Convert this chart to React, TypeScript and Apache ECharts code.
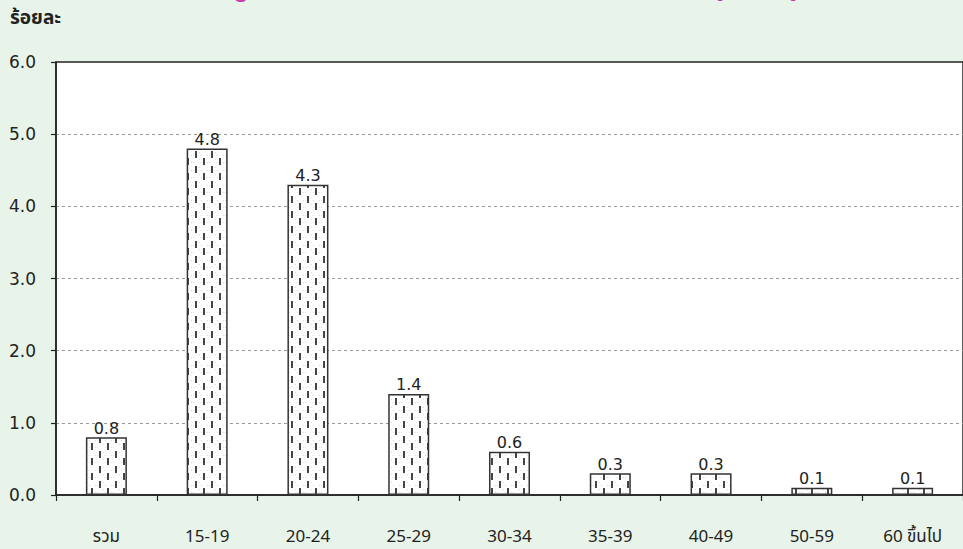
import React, { useEffect, useRef } from "react";
import * as echarts from "echarts";

const categories = ["รวม", "15-19", "20-24", "25-29", "30-34", "35-39", "40-49", "50-59", "60 ขึ้นไป"];
const values = [0.8, 4.8, 4.3, 1.4, 0.6, 0.3, 0.3, 0.1, 0.1];
const yTicks = [0, 1, 2, 3, 4, 5, 6];
const yAxisTitle = "ร้อยละ";
const chartTitle = "แผนภูมิ 2 อัตราการว่างงาน จำแนกตามกลุ่มอายุ (ปี)";

const THAI_FONT = "Tahoma, 'Noto Sans Thai', 'Loma', 'Garuda', 'Noto Sans', 'DejaVu Sans', sans-serif";
const NUM_FONT = "'DejaVu Sans', Tahoma, sans-serif";

function makePattern(): string {
  const c = document.createElement("canvas");
  c.width = 16;
  c.height = 15;
  const ctx = c.getContext("2d")!;
  ctx.fillStyle = "#ffffff";
  ctx.fillRect(0, 0, 16, 15);
  ctx.fillStyle = "#d8d8d8";
  const dots = [[7, 2], [15, 5], [7, 9], [15, 12], [1, 5], [9, 12], [1, 12], [9, 5]];
  dots.forEach(([x, y]) => ctx.fillRect(x, y, 1, 1));
  ctx.fillStyle = "#444444";
  ctx.fillRect(3, 1, 2, 7);
  ctx.fillRect(11, 8, 2, 7);
  return c.toDataURL();
}

export default function App() {
  const ref = useRef<HTMLDivElement>(null);
  useEffect(() => {
    if (!ref.current) return;
    const chart = echarts.init(ref.current, null, { renderer: "svg" });
    const pattern = makePattern();
    chart.setOption({
      animation: false,
      backgroundColor: "#e8f4e9",
      graphic: [
        {
          type: "text",
          x: 164,
          y: -28,
          scaleX: 1.15,
          style: {
            text: chartTitle,
            fill: "#c23fae",
            font: `bold 28px ${THAI_FONT}`,
          },
        },
        {
          type: "text",
          left: 10,
          top: 9,
          style: {
            text: yAxisTitle,
            fill: "#222",
            font: `bold 19px ${THAI_FONT}`,
          },
        },
      ],
      grid: {
        left: 56,
        top: 62,
        right: -2,
        bottom: 54,
        show: true,
        backgroundColor: "#ffffff",
        borderColor: "#222",
        borderWidth: 1.5,
      },
      xAxis: {
        type: "category",
        data: categories,
        axisLine: { lineStyle: { color: "#222", width: 1.5 } },
        axisTick: { show: true, length: 6, lineStyle: { color: "#222", width: 1.2 } },
        axisLabel: {
          color: "#222",
          fontSize: 17,
          fontFamily: THAI_FONT,
          margin: 33,
          interval: 0,
        },
      },
      yAxis: {
        type: "value",
        min: yTicks[0],
        max: yTicks[yTicks.length - 1],
        interval: 1,
        axisLine: { show: true, lineStyle: { color: "#222", width: 1.5 } },
        axisTick: { show: true, length: 5, lineStyle: { color: "#222", width: 1.2 } },
        axisLabel: {
          color: "#222",
          fontSize: 17,
          fontFamily: NUM_FONT,
          margin: 20,
          formatter: (v: number) => v.toFixed(1),
        },
        splitLine: {
          show: true,
          showMinLine: false,
          showMaxLine: false,
          lineStyle: { color: "#9a9a9a", type: [3, 3], width: 1 },
        },
      },
      series: [
        {
          type: "bar",
          data: values,
          barWidth: 41,
          itemStyle: {
            color: {
              image: pattern,
              repeat: "repeat",
              imageWidth: 16,
              imageHeight: 15,
            },
            borderColor: "#333",
            borderWidth: 1.5,
          },
          label: {
            show: true,
            position: "top",
            distance: 1,
            color: "#222",
            fontSize: 16,
            fontFamily: NUM_FONT,
            formatter: (p: any) => Number(p.value).toFixed(1),
          },
        },
      ],
    });
    return () => chart.dispose();
  }, []);
  return (
    <div
      ref={ref}
      style={{ position: "fixed", left: 0, top: 0, width: 963, height: 549 }}
    />
  );
}
